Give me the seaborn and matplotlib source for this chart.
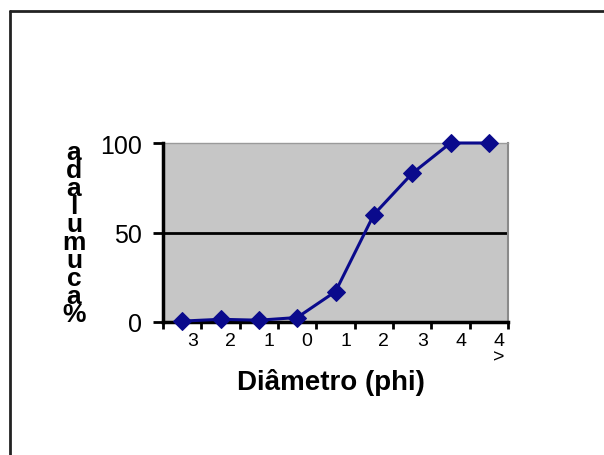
import matplotlib
matplotlib.use("Agg")
import matplotlib.pyplot as plt
import matplotlib.transforms as mtransforms
import seaborn as sns
import pandas as pd
import numpy as np

categories = ["3", "2", "1", "0", "1", "2", "3", "4", "4\n>"]
cumulative = [0.5, 1.5, 1.0, 2.5, 17, 60, 83, 100, 100]
y_ticks = [0, 50, 100]
x_title = "Diâmetro (phi)"
y_title = "% acumulada"

sns.set_style("white")
plt.rcParams['font.family'] = ['Liberation Sans', 'DejaVu Sans']
plt.rcParams['text.color'] = 'black'
plt.rcParams['xtick.color'] = 'black'
plt.rcParams['ytick.color'] = 'black'
plt.rcParams['xtick.labelcolor'] = 'black'
plt.rcParams['ytick.labelcolor'] = 'black'

W, H = 604, 456
fig = plt.figure(figsize=(W / 100, H / 100), dpi=100)
fig.patch.set_facecolor("white")

# outer frame (left/top visible)
fig.add_artist(plt.Line2D([10 / W, 10 / W], [0, 1 - 12 / H], color="#222222", lw=2, transform=fig.transFigure))
fig.add_artist(plt.Line2D([10 / W, 1], [1 - 12 / H, 1 - 12 / H], color="#222222", lw=2, transform=fig.transFigure))

l, r, t, b = 163, 508, 144, 323
ax = fig.add_axes([l / W, 1 - b / H, (r - l) / W, (b - t) / H])
ax.set_facecolor("#c6c6c6")

df = pd.DataFrame({"x": np.arange(len(categories)), "y": cumulative})
sns.lineplot(data=df, x="x", y="y", ax=ax, color="#0a0a8c", lw=2.2,
             marker="D", markersize=9, markeredgecolor="#0a0a8c", clip_on=False, zorder=5)

ax.set_xlim(-0.5, len(categories) - 0.5)
ax.set_ylim(0, 100)
ax.axhline(50, color="black", lw=2, zorder=1)

ax.set_xticks(np.arange(-0.5, len(categories), 1.0))
ax.set_xticklabels([])
ax.set_xticks(np.arange(len(categories)), minor=True)
ax.set_xticklabels(categories, minor=True, fontsize=14, linespacing=1.0, va="top")
ax.tick_params(axis="x", which="major", direction="out", length=5, width=2, color="black", bottom=True)
ax.tick_params(axis="x", which="minor", length=0, pad=7)
offset = mtransforms.ScaledTranslation(10 / 100, 0, fig.dpi_scale_trans)
for lab in ax.xaxis.get_minorticklabels():
    lab.set_transform(lab.get_transform() + offset)

ax.set_yticks(y_ticks)
ax.set_yticklabels([str(v) for v in y_ticks], fontsize=18)
ax.tick_params(axis="y", direction="out", length=7, width=2, color="black", left=True, pad=8)

ax.set_xlabel("")
ax.set_ylabel("")
for s in ["left", "bottom"]:
    ax.spines[s].set_color("black")
    ax.spines[s].set_linewidth(2.5)
    ax.spines[s].set_zorder(4)
ax.spines["right"].set_color("#8a8a8a")
ax.spines["right"].set_linewidth(1.5)
ax.spines["top"].set_color("#9a9a9a")
ax.spines["top"].set_linewidth(1)
ax.grid(False)

fig.text(331 / W, 1 - 382 / H, x_title, fontsize=20, fontweight="bold", ha="center", va="center", color="black")

stacked = "\n".join(reversed(list(y_title.replace(" ", ""))))
fig.text(74 / W, 1 - 234 / H, stacked, fontsize=19, fontweight="bold", ha="center", va="center",
         linespacing=0.68, multialignment="center", color="black")

fig.savefig("out.png", dpi=100)
